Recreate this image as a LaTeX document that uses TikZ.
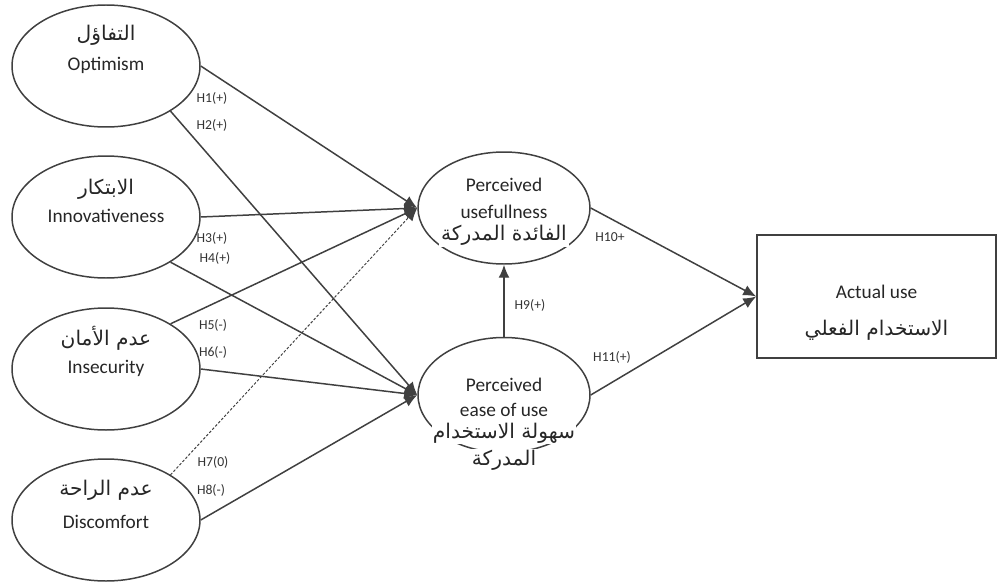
\documentclass[tikz,border=0pt]{standalone}
\usepackage{fontspec}
\setmainfont{Carlito}
\newfontfamily\arabicfont[Script=Arabic]{DejaVu Sans}
\TeXXeTstate=1
\usetikzlibrary{arrows.meta,shapes.geometric}
\newcommand{\artext}[1]{\beginR #1\endR}

\tikzset{
  construct/.style={draw=black!75, line width=0.85pt, ellipse, inner sep=0pt,
    minimum width=3.76cm, minimum height=2.44cm},
  mediator/.style={construct, minimum width=3.44cm, minimum height=2.24cm},
  outcome/.style={draw=black!75, line width=0.85pt, rectangle,
    minimum width=4.78cm, minimum height=2.46cm},
  en/.style={text=black!85, font=\fontsize{11}{12}\selectfont, inner sep=1pt},
  arab/.style={text=black!85, font=\arabicfont\fontsize{11.5}{13}\selectfont, inner sep=1pt},
  hyp/.style={text=black!80, font=\fontsize{7.8}{8}\selectfont, inner sep=0pt},
  link/.style={draw=black!75, line width=0.85pt, -{Latex[length=2.6mm,width=2.2mm]}},
  nolink/.style={link, line width=0.55pt, dash pattern=on 1.5pt off 1pt}
}

\begin{document}
\begin{tikzpicture}
    \useasboundingbox (0,0) rectangle (20,11.68);

    % Vertices
    \node[construct] (opt) at (2.12,10.36) {};
    \node[construct] (inn) at (2.12,7.34) {};
    \node[construct] (ins) at (2.12,4.30) {};
    \node[construct] (dis) at (2.12,1.28) {};
    \node[mediator] (pu) at (10.08,7.52) {};
    \node[mediator, minimum height=2.3cm] (peou) at (10.08,3.78) {};
    \node[outcome] (au) at (17.53,5.75) {};

    % Texts
    \node[arab] (optar) at ([yshift=0.62cm]opt.center) {\artext{التفاؤل}};
    \node[en] (opten) at ([yshift=0.02cm]opt.center) {Optimism};
    \node[arab] (innar) at ([yshift=0.56cm]inn.center) {\artext{الابتكار}};
    \node[en] (innen) at ([yshift=0.02cm]inn.center) {Innovativeness};
    \node[arab] (insar) at ([yshift=0.62cm]ins.center) {\artext{عدم الأمان}};
    \node[en] (insen) at ([yshift=0.02cm]ins.center) {Insecurity};
    \node[arab] (disar) at ([yshift=0.60cm]dis.center) {\artext{عدم الراحة}};
    \node[en] (disen) at ([yshift=-0.04cm]dis.center) {Discomfort};
    \node[en] (pua) at ([yshift=0.46cm]pu.center) {Perceived};
    \node[en] (pub) at ([yshift=-0.08cm]pu.center) {usefullness};
    \node[arab, fill=white] (puar) at ([yshift=-0.54cm]pu.center) {\artext{الفائدة المدركة}};
    \node[en] (peoua) at ([yshift=0.2cm]peou.center) {Perceived};
    \node[en] (peoub) at ([yshift=-0.3cm]peou.center) {ease of use};
    \node[arab, fill=white, inner sep=0.5pt] (peouar) at ([yshift=-0.76cm]peou.center) {\artext{سهولة الاستخدام}};
    \node[arab, fill=white, inner sep=0.5pt] (peouas) at ([yshift=-1.3cm]peou.center) {\artext{المدركة}};
    \node[en] (aua) at ([yshift=0.1cm]au.center) {Actual use};
    \node[arab] (auar) at ([yshift=-0.67cm]au.center) {\artext{الاستخدام الفعلي}};

    % Edges
    \draw[link] (opt.east) -- (pu.west);
    \draw[link] (opt.-35) -- (peou.west);
    \draw[link] (inn.east) -- (pu.west);
    \draw[link] (inn.-35) -- (peou.west);
    \draw[link] (ins.35) -- (pu.west);
    \draw[link] (ins.east) -- (peou.west);
    \draw[nolink] (dis.35) -- (pu.west);
    \draw[link] (dis.east) -- (peou.west);
    \draw[link] (peou.north) -- (pu.south);
    \draw[link] (pu.east) -- (au.west);
    \draw[link] (peou.east) -- (au.west);

    % Hypotheses
    \node[hyp] (h1) at (4.24,9.72) {H1(+)};
    \node[hyp] (h2) at (4.24,9.18) {H2(+)};
    \node[hyp] (h3) at (4.24,6.92) {H3(+)};
    \node[hyp] (h4) at (4.30,6.52) {H4(+)};
    \node[hyp] (h5) at (4.26,5.18) {H5(-)};
    \node[hyp] (h6) at (4.26,4.64) {H6(-)};
    \node[hyp] (h7) at (4.26,2.44) {H7(0)};
    \node[hyp] (h8) at (4.22,1.88) {H8(-)};
    \node[hyp] (h9) at (10.60,5.58) {H9(+)};
    \node[hyp] (h10) at (12.20,6.94) {H10+};
    \node[hyp] (h11) at (12.24,4.54) {H11(+)};
  \end{tikzpicture}
\end{document}
